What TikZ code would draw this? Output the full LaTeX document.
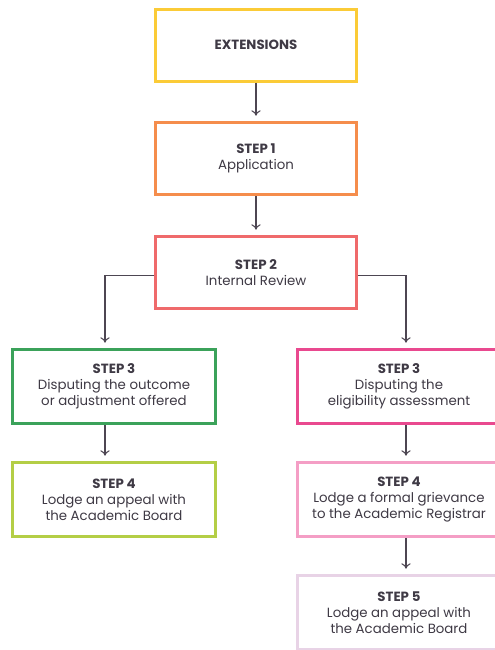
\documentclass[tikz,border=0pt]{standalone}
\usepackage{fontspec}
\setmainfont{Poppins}
\usetikzlibrary{arrows.meta,calc}
\definecolor{cyel}{HTML}{FBCB37}
\definecolor{cora}{HTML}{F58D4C}
\definecolor{cred}{HTML}{EF6A6B}
\definecolor{cgrn}{HTML}{3BA25A}
\definecolor{clim}{HTML}{B4CE46}
\definecolor{cpnk}{HTML}{E9498F}
\definecolor{clpk}{HTML}{F49EC5}
\definecolor{clav}{HTML}{E8D3E6}
\definecolor{ctxt}{HTML}{3F3A45}
\definecolor{carr}{HTML}{4D4652}
\tikzset{
  box/.style={draw, line width=2.25pt, fill=white, align=center, text=ctxt,
    font=\fontsize{10pt}{12pt}\selectfont, inner sep=0pt},
  topbox/.style={box, minimum width=150.75pt, minimum height=54pt},
  colbox/.style={box, minimum width=152.25pt, minimum height=55.5pt},
  arr/.style={draw=carr, line width=0.8pt, -{To[length=4pt,width=7pt]}, shorten >=4pt}
}
\newcommand{\stp}[1]{\textbf{#1}}
\begin{document}
\begin{tikzpicture}[x=0.75pt,y=-0.75pt]
\useasboundingbox (0,0) rectangle (494,650);
\node[topbox, draw=cyel] (ext) at (256,45) {\stp{EXTENSIONS}};
\node[topbox, draw=cora] (s1) at (256,158.5) {\stp{STEP 1}\\Application};
\node[topbox, draw=cred] (s2) at (256,272.5) {\stp{STEP 2}\\Internal Review};
\node[colbox, draw=cgrn] (l3) at (114,386.5) {\stp{STEP 3}\\Disputing the outcome\\or adjustment offered};
\node[colbox, draw=clim] (l4) at (114,499.5) {\stp{STEP 4}\\Lodge an appeal with\\the Academic Board};
\node[colbox, draw=cpnk] (r3) at (399,386.5) {\stp{STEP 3}\\Disputing the\\eligibility assessment};
\node[colbox, draw=clpk] (r4) at (399,499.5) {\stp{STEP 4}\\Lodge a formal grievance\\to the Academic Registrar};
\node[colbox, draw=clav] (r5) at (399,612.5) {\stp{STEP 5}\\Lodge an appeal with\\the Academic Board};
\draw[arr] (ext.south) -- (s1.north);
\draw[arr] (s1.south) -- (s2.north);
\draw[arr] ([yshift=-1.9pt]s2.west) -| ([xshift=-6.75pt]l3.north);
\draw[arr] ([yshift=-1.9pt]s2.east) -| ([xshift=5.25pt]r3.north);
\draw[arr] ([xshift=-6.75pt]l3.south) -- ([xshift=-6.75pt]l4.north);
\draw[arr] ([xshift=5.25pt]r3.south) -- ([xshift=5.25pt]r4.north);
\draw[arr] ([xshift=5.25pt]r4.south) -- ([xshift=5.25pt]r5.north);
\end{tikzpicture}
\end{document}
